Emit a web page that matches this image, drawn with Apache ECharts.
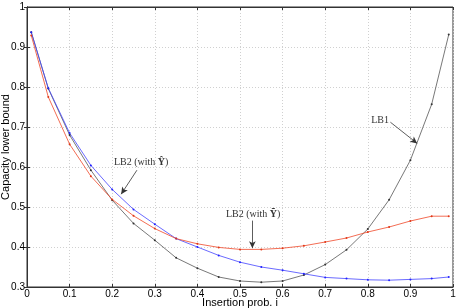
<!DOCTYPE html>
<html><head><meta charset="utf-8">
<script src="https://cdn.jsdelivr.net/npm/echarts@6/dist/echarts.min.js"></script>
<style>html,body{margin:0;padding:0;background:#fff}#c{width:457px;height:308px}</style>
</head><body><div id="c"></div>
<script>
const xVals = [0.01,0.05,0.1,0.15,0.2,0.25,0.3,0.35,0.4,0.45,0.5,0.55,0.6,0.65,0.7,0.75,0.8,0.85,0.9,0.95,0.99];
const lb1 = [0.937,0.796,0.68,0.592,0.517,0.459,0.417,0.373,0.347,0.325,0.315,0.312,0.315,0.330,0.356,0.393,0.445,0.518,0.617,0.757,0.931];
const lb2Hat = [0.937,0.797,0.685,0.604,0.544,0.494,0.457,0.421,0.400,0.379,0.362,0.350,0.342,0.333,0.324,0.321,0.318,0.317,0.319,0.321,0.325];
const lb2Tilde = [0.929,0.775,0.657,0.577,0.519,0.478,0.446,0.421,0.408,0.399,0.394,0.394,0.397,0.403,0.4125,0.4225,0.4375,0.45,0.465,0.477,0.477];
const xTicks = [0,0.1,0.2,0.3,0.4,0.5,0.6,0.7,0.8,0.9,1];
const yTicks = [0.3,0.4,0.5,0.6,0.7,0.8,0.9,1];

const pairs = ys => xVals.map((x,i)=>[x,ys[i]]);
const annoColor = '#333';
const serif = 'Liberation Serif';
function arrow(from, to){
  return [{coord: from, symbol:'none'}, {coord: to, symbol:'arrow', symbolSize:[5,7]}];
}
function label(pos, rich, text){
  return {coord: pos, symbol:'circle', symbolSize:0,
    label:{show:true, position:'inside', formatter:text, rich:rich, color:annoColor, fontFamily:serif, fontSize:10}};
}
const rich = {b:{fontWeight:'bold', fontFamily:serif, fontSize:10, color:annoColor}};

const chart = echarts.init(document.getElementById('c'));
const axisLabelStyle = {color:'#000', fontFamily:'Liberation Sans', fontSize:10};
chart.setOption({
  animation:false,
  grid:{left:27, right:4, top:7, bottom:21, show:true, borderColor:'#333', borderWidth:1, containLabel:false, outerBoundsMode:'none'},
  xAxis:[{type:'value', min:0, max:1, interval:0.1,
    name:'Insertion prob. i', nameLocation:'middle', nameGap:10, nameMoveOverlap:false,
    nameTextStyle:{color:'#000', fontFamily:'Liberation Sans', fontSize:11},
    axisLine:{lineStyle:{color:'#333'}},
    axisTick:{inside:true, length:3, lineStyle:{color:'#333'}},
    axisLabel:Object.assign({margin:2, formatter:v=>xTicks.includes(+v.toFixed(1))?String(+v.toFixed(1)):''}, axisLabelStyle),
    splitLine:{show:true, lineStyle:{color:'#d0d0d0', type:[1,2], width:1}}},
   {type:'value', position:'top', min:0, max:1, interval:0.1,
    axisLine:{lineStyle:{color:'#333'}}, axisTick:{inside:true, length:3, lineStyle:{color:'#333'}},
    axisLabel:{show:false}, splitLine:{show:false}}],
  yAxis:[{type:'value', min:0.3, max:1, interval:0.1,
    name:'Capacity lower bound', nameLocation:'middle', nameGap:16, nameMoveOverlap:false,
    nameTextStyle:{color:'#000', fontFamily:'Liberation Sans', fontSize:11},
    axisLine:{lineStyle:{color:'#333'}},
    axisTick:{inside:true, length:3, lineStyle:{color:'#333'}},
    axisLabel:Object.assign({margin:2, formatter:v=>yTicks.includes(+v.toFixed(1))?String(+v.toFixed(1)):''}, axisLabelStyle),
    splitLine:{show:true, lineStyle:{color:'#d0d0d0', type:[1,2], width:1}}},
   {type:'value', position:'right', min:0.3, max:1, interval:0.1,
    axisLine:{lineStyle:{color:'#333'}}, axisTick:{inside:true, length:3, lineStyle:{color:'#333'}},
    axisLabel:{show:false}, splitLine:{show:false}}],
  series:[
    {name:'LB1', type:'line', data:pairs(lb1), symbol:'circle', symbolSize:2,
     lineStyle:{color:'#555', width:0.8}, itemStyle:{color:'#333'},
     markLine:{silent:true, symbol:['none','arrow'], lineStyle:{color:annoColor, width:0.8, type:'solid'}, label:{show:false},
       data:[arrow([0.853,0.712],[0.916,0.659])]},
     markPoint:{silent:true, data:[label([0.829,0.716], rich, 'LB1')]}},
    {name:'LB2 hat', type:'line', data:pairs(lb2Hat), symbol:'circle', symbolSize:2,
     lineStyle:{color:'#4444ff', width:0.8}, itemStyle:{color:'#2222ff'},
     markLine:{silent:true, symbol:['none','arrow'], lineStyle:{color:annoColor, width:0.8, type:'solid'}, label:{show:false},
       data:[arrow([0.258,0.592],[0.221,0.532])]},
     markPoint:{silent:true, data:[label([0.268,0.611], rich, 'LB2 (with {b|Ŷ})')]}},
    {name:'LB2 tilde', type:'line', data:pairs(lb2Tilde), symbol:'circle', symbolSize:2,
     lineStyle:{color:'#f04828', width:0.8}, itemStyle:{color:'#e03818'},
     markLine:{silent:true, symbol:['none','arrow'], lineStyle:{color:annoColor, width:0.8, type:'solid'}, label:{show:false},
       data:[arrow([0.529,0.466],[0.529,0.397])]},
     markPoint:{silent:true, data:[label([0.531,0.482], rich, 'LB2 (with {b|Ỹ})')]}}
  ]
});
</script></body></html>
